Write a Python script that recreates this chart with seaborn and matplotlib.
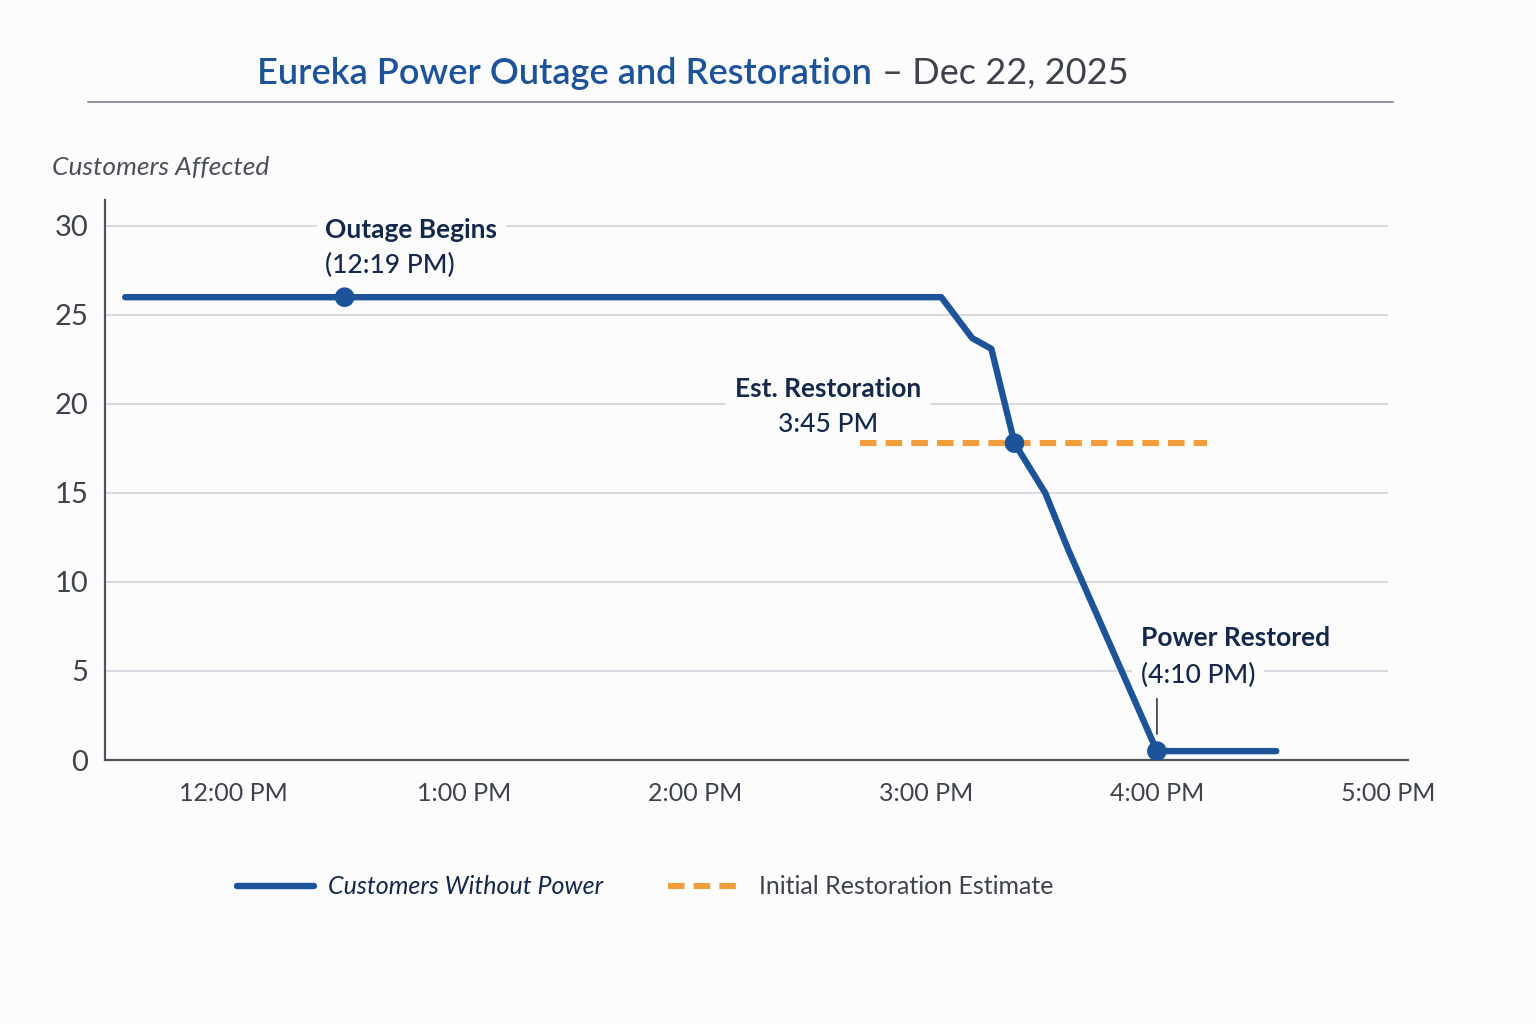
import matplotlib
matplotlib.use("Agg")
import matplotlib.pyplot as plt
from matplotlib.lines import Line2D
import pandas as pd
import seaborn as sns

# data
times = ["11:32", "12:29", "15:04", "15:12", "15:17", "15:23", "15:31", "15:37", "16:00", "16:31"]
customers = [26, 26, 26, 23.7, 23.1, 17.8, 15, 11.8, 0.5, 0.5]
event_times = ["12:29", "15:23", "16:00"]
event_values = [26, 17.8, 0.5]
estimate_times = ["14:43", "16:13"]
estimate_values = [17.8, 17.8]
tick_hours = [12, 13, 14, 15, 16, 17]
tick_labels = ["12:00 PM", "1:00 PM", "2:00 PM", "3:00 PM", "4:00 PM", "5:00 PM"]
y_ticks = [0, 5, 10, 15, 20, 25, 30]


def to_hours(t):
    h, m = t.split(":")
    return int(h) + int(m) / 60


BLUE = "#1d5499"
NAVY = "#14284b"
ORANGE = "#f29d3c"
GRAY = "#3d424c"
GRID = "#d4d7dd"
BG = "#fcfcfd"

sns.set_theme(style="white")
plt.rcParams["font.family"] = ["Lato", "DejaVu Sans"]

df = pd.DataFrame({"hour": [to_hours(t) for t in times], "customers": customers})
events = pd.DataFrame({"hour": [to_hours(t) for t in event_times], "customers": event_values})
est = pd.DataFrame({"hour": [to_hours(t) for t in estimate_times], "customers": estimate_values})

fig = plt.figure(figsize=(15.36, 10.24), dpi=100, facecolor=BG)
ax = fig.add_axes([0.06836, 0.25781, 0.84831, 0.54688])
ax.set_facecolor(BG)
ax.set_xlim(11.446, 17.087)
ax.set_ylim(0, 31.46)

# gridlines stop at the 5 PM tick
ax.hlines(y_ticks[1:], 11.446, 17.0, color=GRID, lw=1.3, zorder=0)

sns.lineplot(data=df, x="hour", y="customers", color=BLUE, lw=4.6, sort=False,
             label="Customers Without Power", ax=ax, zorder=4)
sns.lineplot(data=est, x="hour", y="customers", color=ORANGE, lw=4.4,
             linestyle=(0, (2.7, 1.5)), label="Initial Restoration Estimate", ax=ax, zorder=4)
sns.scatterplot(data=events, x="hour", y="customers", color=BLUE, s=200,
                edgecolor="none", legend=False, ax=ax, zorder=5)

# axes styling
for side in ["top", "right"]:
    ax.spines[side].set_visible(False)
for side in ["left", "bottom"]:
    ax.spines[side].set_color("#4e535e")
    ax.spines[side].set_linewidth(1.6)
ax.set_xticks(tick_hours)
ax.set_xticklabels(tick_labels)
ax.set_yticks(y_ticks)
ax.tick_params(axis="x", direction="in", length=9, width=1.3, color="#4e535e",
               labelsize=18, labelcolor=GRAY, pad=16)
ax.tick_params(axis="y", length=0, labelsize=21, labelcolor=GRAY, pad=12)
ax.set_xlabel("")
ax.set_ylabel("")

# annotations
box = dict(facecolor=BG, edgecolor="none", pad=6)
ax.text(12.40, 29.78, "Outage Begins", ha="left", va="center", fontsize=19,
        fontweight="bold", color=NAVY, bbox=box, zorder=3)
ax.text(12.40, 27.76, "(12:19 PM)", ha="left", va="center", fontsize=19,
        fontweight="medium", color=NAVY, zorder=3)
ax.text(14.576, 20.85, "Est. Restoration", ha="center", va="center", fontsize=19,
        fontweight="bold", color=NAVY, bbox=box, zorder=3)
ax.text(14.576, 18.85, "3:45 PM", ha="center", va="center", fontsize=19,
        fontweight="medium", color=NAVY, zorder=3)
ax.text(15.93, 6.85, "Power Restored", ha="left", va="center", fontsize=19,
        fontweight="bold", color=NAVY, zorder=3)
ax.text(15.93, 4.78, "(4:10 PM)", ha="left", va="center", fontsize=19,
        fontweight="medium", color=NAVY, bbox=box, zorder=3)
ax.annotate("", xy=(16.0, 1.3), xytext=(16.0, 3.6),
            arrowprops=dict(arrowstyle="-", lw=1.2, color="#333844"))

# title and rule
fig.text(872 / 1536, 1 - 84 / 1024, "Eureka Power Outage and Restoration", ha="right",
         va="baseline", fontsize=26, fontweight="semibold", color=BLUE)
fig.text(882 / 1536, 1 - 84 / 1024, "– Dec 22, 2025", ha="left", va="baseline",
         fontsize=26, color=GRAY)
fig.add_artist(Line2D([88 / 1536, 1393 / 1536], [1 - 102 / 1024] * 2, color="#8d929c", lw=1.4))

fig.text(52 / 1536, 1 - 168 / 1024, "Customers Affected", ha="left", va="center",
         fontsize=19, fontstyle="italic", color="#4a4f59")

# legend below the chart
handles, labels = ax.get_legend_handles_labels()
ax.get_legend().remove()
leg = fig.legend(handles, labels, loc="center left", bbox_to_anchor=(214 / 1536, 1 - 887 / 1024),
                 ncol=2, frameon=False, fontsize=18, handlelength=3.1, handletextpad=0.55,
                 columnspacing=2.6)
leg.get_texts()[0].set_fontstyle("italic")
leg.get_texts()[0].set_color(NAVY)
leg.get_texts()[1].set_color(GRAY)

fig.savefig("out.png", dpi=100, facecolor=BG)
